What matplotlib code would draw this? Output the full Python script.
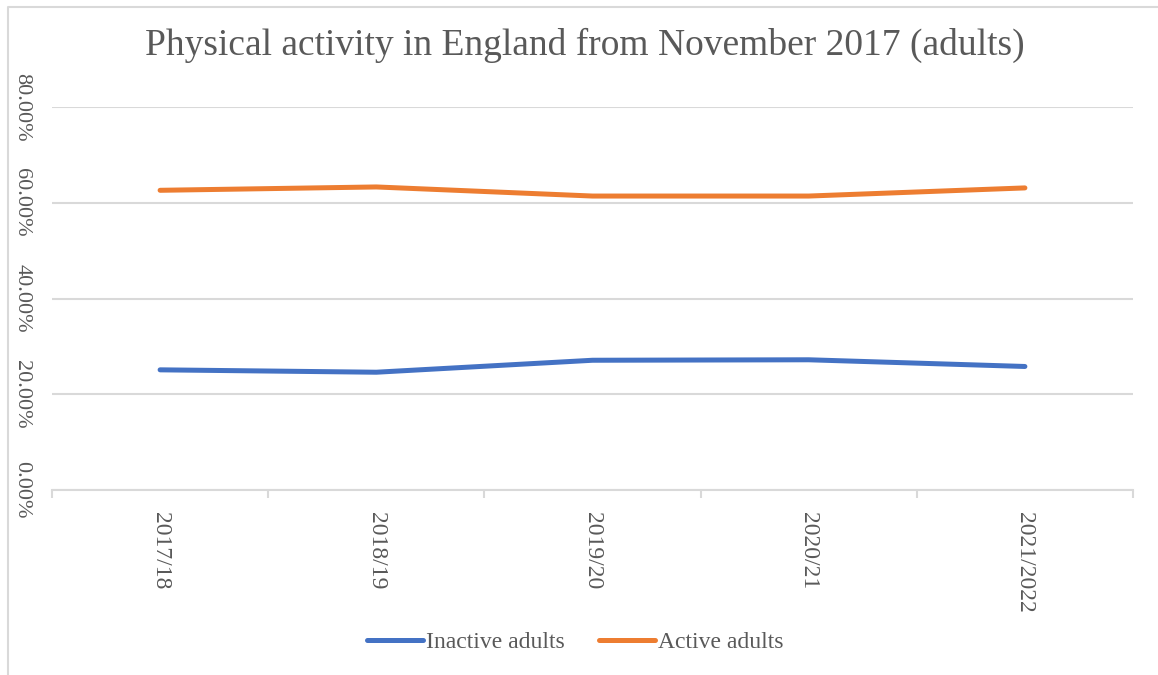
import matplotlib
matplotlib.use("Agg")
import matplotlib.pyplot as plt
from matplotlib.lines import Line2D
import numpy as np

categories = ["2017/18", "2018/19", "2019/20", "2020/21", "2021/2022"]
inactive = [0.251, 0.246, 0.271, 0.272, 0.258]
active = [0.626, 0.633, 0.614, 0.614, 0.631]
yticks = [0.0, 0.2, 0.4, 0.6, 0.8]
ytick_labels = ["0.00%", "20.00%", "40.00%", "60.00%", "80.00%"]
title = "Physical activity in England from November 2017 (adults)"

plt.rcParams['font.family'] = ['Liberation Serif', 'DejaVu Serif']
TXT = "#595959"
GRID = "#D9D9D9"
BLUE = "#4472C4"
ORANGE = "#ED7D31"

W, H = 1158, 675
fig = plt.figure(figsize=(W / 100, H / 100), dpi=100)
ax = fig.add_axes([52 / W, 1 - 490 / H, (1133 - 52) / W, (490 - 107) / H])

x = np.arange(len(categories))
ax.plot(x, inactive, color=BLUE, lw=3.6, solid_capstyle='round', solid_joinstyle='round', label="Inactive adults", zorder=3)
ax.plot(x, active, color=ORANGE, lw=3.6, solid_capstyle='round', solid_joinstyle='round', label="Active adults", zorder=3)

ax.set_xlim(-0.5, len(categories) - 0.5)
ax.set_ylim(0, 0.8)
ax.set_yticks(yticks)
ax.set_yticklabels(ytick_labels, rotation=270, fontsize=16, color=TXT, va='center', ha='right')
ax.tick_params(axis='y', length=0, pad=15)
ax.set_xticks(x)
ax.set_xticklabels(categories, rotation=270, fontsize=17, color=TXT, va='top', ha='center')
ax.set_xticks(np.arange(-0.5, len(categories)), minor=True)
ax.tick_params(axis='x', which='major', length=0, pad=16)
ax.tick_params(axis='x', which='minor', length=6, width=1.5, color=GRID)

ax.grid(axis='y', color=GRID, lw=1.5, zorder=0)
for s in ['top', 'right', 'left']:
    ax.spines[s].set_visible(False)
ax.spines['bottom'].set_color(GRID)
ax.spines['bottom'].set_linewidth(1.5)

fig.text(585 / W, 1 - 45 / H, title, ha='center', va='center', fontsize=27, color=TXT)

fig.legend(loc='center', bbox_to_anchor=(575 / W, 1 - 642 / H), ncol=2, frameon=False,
           fontsize=17, labelcolor=TXT, handlelength=2.4, handletextpad=0.1, columnspacing=1.45)

fig.add_artist(Line2D([8 / W, 8 / W, 1.0], [0.0, 1 - 7 / H, 1 - 7 / H], transform=fig.transFigure,
                      color=GRID, lw=1.5))

fig.savefig("out.png", dpi=100, facecolor='white')
